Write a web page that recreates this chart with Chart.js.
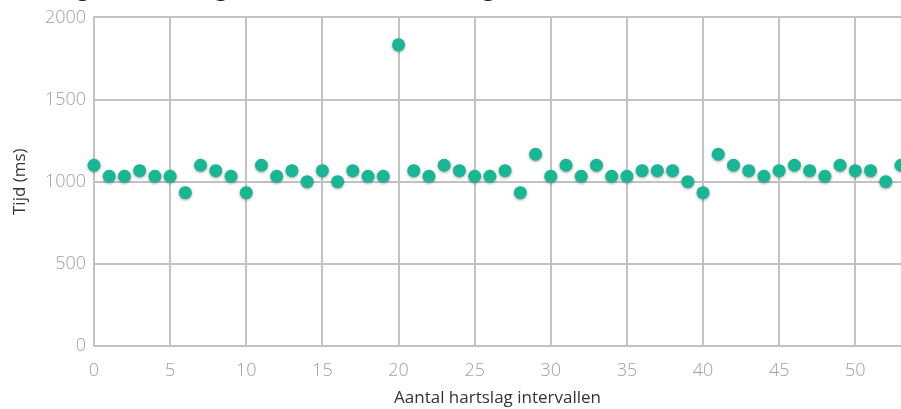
<!DOCTYPE html>
<html>
<head>
<meta charset="utf-8">
<script src="https://cdn.jsdelivr.net/npm/chart.js@4/dist/chart.umd.min.js"></script>
<style>
  html, body { margin: 0; padding: 0; background: #fff; overflow: hidden; }
  #wrap { position: relative; width: 901px; height: 439px; margin-top: -30px; }
</style>
</head>
<body>
<div id="wrap"><canvas id="chart"></canvas></div>
<script>
  const titleText = 'Hartslag intervallen gemeten met een hartslagmeter'
  const xTitle = 'Aantal hartslag intervallen'
  const yTitle = 'Tijd (ms)'
  // interval number and duration (ms)
  const intervals = [0, 1, 2, 3, 4, 5, 6, 7, 8, 9, 10, 11, 12, 13, 14, 15, 16, 17, 18, 19, 20,
    21, 22, 23, 24, 25, 26, 27, 28, 29, 30, 31, 32, 33, 34, 35, 36, 37, 38, 39, 40,
    41, 42, 43, 44, 45, 46, 47, 48, 49, 50, 51, 52, 53]
  const durations = [1100, 1033, 1033, 1067, 1033, 1033, 933, 1100, 1067, 1033, 933,
    1100, 1033, 1067, 1000, 1067, 1000, 1067, 1033, 1033, 1833,
    1067, 1033, 1100, 1067, 1033, 1033, 1067, 933, 1167, 1033,
    1100, 1033, 1100, 1033, 1033, 1067, 1067, 1067, 1000, 933,
    1167, 1100, 1067, 1033, 1067, 1100, 1067, 1033, 1100, 1067,
    1067, 1000, 1100]
  const xMax = 53
  const yMax = 2000

  const shadowPlugin = {
    id: 'pointShadow',
    beforeDatasetsDraw(chart) {
      const ctx = chart.ctx
      ctx.save()
      ctx.shadowColor = 'rgba(0,0,0,0.35)'
      ctx.shadowBlur = 3
      ctx.shadowOffsetY = 1
    },
    afterDatasetsDraw(chart) {
      chart.ctx.restore()
    }
  }

  const tickFont = { family: 'Open Sans', size: 18, weight: 300 }
  const gridColor = '#c2c2c2'

  new Chart(document.getElementById('chart'), {
    type: 'scatter',
    data: {
      datasets: [{
        data: intervals.map((x, i) => ({ x, y: durations[i] })),
        backgroundColor: '#1bb494',
        borderWidth: 0,
        pointRadius: 6.5,
        pointHoverRadius: 6.5,
        clip: false
      }]
    },
    options: {
      responsive: true,
      maintainAspectRatio: false,
      animation: false,
      layout: { autoPadding: false, padding: 0 },
      plugins: {
        legend: { display: false },
        tooltip: { enabled: false },
        title: {
          display: true,
          align: 'start',
          text: titleText,
          color: '#111',
          font: { family: 'Open Sans', size: 22, weight: 600 },
          padding: { top: 7, bottom: 14 }
        }
      },
      scales: {
        x: {
          type: 'linear',
          min: 0,
          max: xMax,
          afterFit: (s) => { s.height = 63 },
          ticks: { stepSize: 5, includeBounds: false, color: '#a0a0a0', font: tickFont, padding: 14 },
          grid: { color: gridColor, lineWidth: 2, drawTicks: false },
          border: { color: gridColor, width: 2 },
          title: {
            display: true,
            text: xTitle,
            color: '#333',
            font: { family: 'Open Sans', size: 17 },
            padding: { top: 0, bottom: 1 }
          }
        },
        y: {
          min: 0,
          max: yMax,
          afterFit: (s) => { s.width = 94 },
          ticks: {
            stepSize: 500,
            color: '#a0a0a0',
            font: tickFont,
            padding: 8,
            callback: (v) => String(v)
          },
          grid: { color: gridColor, lineWidth: 2, drawTicks: false },
          border: { color: gridColor, width: 2 },
          title: {
            display: true,
            text: yTitle,
            color: '#333',
            font: { family: 'Open Sans', size: 17 },
            padding: { top: 10, bottom: 0 }
          }
        }
      }
    },
    plugins: [shadowPlugin]
  })
</script>
</body>
</html>
